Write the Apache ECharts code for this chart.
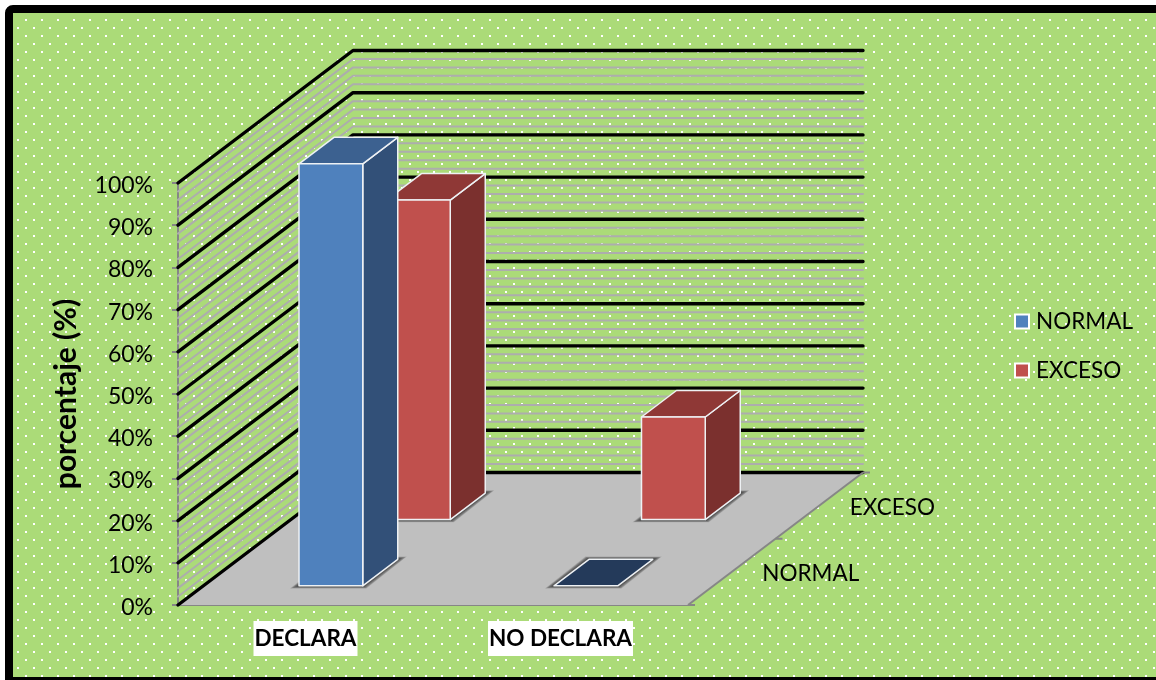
<!DOCTYPE html>
<html>
<head>
<meta charset="utf-8">
<style>html,body{margin:0;padding:0;background:#fff}#c{width:1156px;height:680px}</style>
<script src="https://cdn.jsdelivr.net/npm/echarts@6/dist/echarts.min.js"></script>
</head>
<body>
<div id="c"></div>
<script>
var categories = ['DECLARA', 'NO DECLARA'];
var depthCategories = ['NORMAL', 'EXCESO'];
var normalValues = [100, 0];
var excesoValues = [75.7, 24.3];
var tickValues = [0, 10, 20, 30, 40, 50, 60, 70, 80, 90, 100];

var DX = 175, DY = -132.5, FONT = 'Lato, "Open Sans", sans-serif';
var GREEN = '#ABDB78';

function tile() {
  var t = document.createElement('canvas');
  t.width = 16; t.height = 16;
  var g = t.getContext('2d');
  g.fillStyle = GREEN; g.fillRect(0, 0, 16, 16);
  g.fillStyle = '#fff';
  g.fillRect(9, 3, 2, 2);
  g.fillRect(1, 11, 2, 2);
  return t;
}
function proj(p, d) { return [p[0] + d * DX, p[1] + d * DY]; }

function renderFloor(params, api) {
  var cs = params.coordSys, y0 = api.coord([0, 0])[1];
  var l = cs.x, r = cs.x + cs.width;
  return { type: 'polygon', shape: { points: [[l, y0], [r, y0], proj([r, y0], 1), proj([l, y0], 1)] },
    style: { fill: '#BFBFBF' } };
}
function renderWall(params, api) {
  var cs = params.coordSys, v = api.value(1), y = api.coord([0, v])[1];
  var l = cs.x, r = cs.x + cs.width, major = v % 10 === 0;
  return { type: 'polyline', shape: { points: [[l, y], proj([l, y], 1), proj([r, y], 1)] },
    style: { fill: null, stroke: major ? '#000' : '#ADADAD', lineWidth: major ? 3.4 : 2, lineCap: 'round', lineJoin: 'round' } };
}
function renderDepthAxis(params, api) {
  var cs = params.coordSys, y0 = api.coord([0, 0])[1], r = cs.x + cs.width;
  var axisStyle = { stroke: '#868686', lineWidth: 2, fill: null };
  var kids = [{ type: 'polyline', shape: { points: [[r, y0], proj([r, y0], 1)] }, style: axisStyle }];
  [0, 0.5, 1].forEach(function (d) {
    var p = proj([r, y0], d);
    kids.push({ type: 'polyline', shape: { points: [p, [p[0] + 7, p[1]]] }, style: axisStyle });
  });
  depthCategories.forEach(function (name, i) {
    var p = proj([r, y0], (i + 0.5) / depthCategories.length);
    kids.push({ type: 'text', style: { text: name, x: p[0] + 30.5, y: p[1] + 2, align: 'left', verticalAlign: 'middle',
      fill: '#000', fontSize: 22.5, fontFamily: FONT } });
  });
  return { type: 'group', children: kids };
}
function barRenderer(depthIndex, col) {
  return function (params, api) {
    var c = api.value(0), v = api.value(1);
    var pt = api.coord([c, v]), base = api.coord([c, 0]);
    var w = api.size([1, 0])[0] * 0.25;
    var mid = (depthIndex + 0.5) / depthCategories.length, d0 = mid - 0.105, d1 = mid + 0.095;
    var xa = pt[0] - w / 2, xb = pt[0] + w / 2, yb = base[1], yt = pt[1];
    function st(fill) { return { fill: fill, stroke: '#EEF1F4', lineWidth: 1.5, lineJoin: 'round' }; }
    var foot = [proj([xa, yb], d0), proj([xb, yb], d0), proj([xb, yb], d1), proj([xa, yb], d1)];
    var kids = [];
    for (var e = 9; e >= 1; e -= 1) {
      var sx = e, sy = e * 0.3;
      kids.push({ type: 'polygon', shape: { points: [
        [foot[0][0] - sx, foot[0][1] + sy], [foot[1][0] + sx * 0.4, foot[1][1] + sy],
        [foot[2][0] + sx, foot[2][1] - sy], [foot[3][0] - sx * 0.4, foot[3][1] - sy]] },
        style: { fill: 'rgba(50,50,50,0.17)' } });
    }
    if (v > 0) {
      kids.push({ type: 'polygon', shape: { points: [proj([xb, yb], d0), proj([xb, yb], d1), proj([xb, yt], d1), proj([xb, yt], d0)] }, style: st(col.side) });
      kids.push({ type: 'polygon', shape: { points: [proj([xa, yt], d0), proj([xb, yt], d0), proj([xb, yt], d1), proj([xa, yt], d1)] }, style: st(col.top) });
      kids.push({ type: 'polygon', shape: { points: [proj([xa, yb], d0), proj([xb, yb], d0), proj([xb, yt], d0), proj([xa, yt], d0)] }, style: st(col.front) });
    } else {
      kids.push({ type: 'polygon', shape: { points: foot }, style: st(col.flat) });
    }
    return { type: 'group', children: kids };
  };
}
function pairs(values) { return values.map(function (v, i) { return [i, v]; }); }

var wallLevels = [];
for (var lv = 0; lv <= 100; lv += 2) wallLevels.push([0, lv]);

var chart = echarts.init(document.getElementById('c'));
chart.setOption({
  animation: false,
  backgroundColor: '#fff',
  graphic: [{ type: 'rect', z: -10, silent: true,
    shape: { x: 9, y: 9, width: 1200, height: 672, r: [4, 0, 0, 0] },
    style: { fill: { image: tile(), repeat: 'repeat' }, stroke: '#000', lineWidth: 8 } }],
  grid: { left: 178, top: 183, width: 510, height: 422 },
  legend: {
    data: [{ name: 'NORMAL' }, { name: 'EXCESO' }],
    orient: 'vertical', left: 1009, top: 305, itemWidth: 14, itemHeight: 14, itemGap: 26,
    icon: 'rect', selectedMode: false,
    itemStyle: { borderColor: '#fff', borderWidth: 2 },
    formatter: function (n) { return '{t|' + n + '}'; },
    textStyle: { color: '#000', fontSize: 22.5, fontFamily: FONT,
      rich: { t: { color: '#000', fontSize: 22.5, fontFamily: FONT, padding: [0, 0, 0, 2] } } }
  },
  xAxis: {
    type: 'category', data: categories,
    axisLine: { lineStyle: { color: '#868686', width: 2 } }, axisTick: { show: false },
    axisLabel: { color: '#000', fontWeight: 'bold', fontSize: 22.5, fontFamily: FONT, margin: 16,
      backgroundColor: '#fff', padding: [6, 1, 6, 1], interval: 0 }
  },
  yAxis: {
    type: 'value', min: 0, max: 100, interval: 10,
    name: 'porcentaje (%)', nameLocation: 'middle', nameGap: 97,
    nameTextStyle: { color: '#000', fontWeight: 'bold', fontSize: 30, fontFamily: FONT },
    splitLine: { show: false },
    axisLine: { show: true, lineStyle: { color: '#868686', width: 2 } },
    axisTick: { show: true, length: 6, lineStyle: { color: '#868686', width: 2 } },
    axisLabel: { color: '#000', fontSize: 23, fontFamily: FONT, margin: 25,
      formatter: function (v) { return tickValues.indexOf(v) >= 0 ? '{v|' + v + '%}' : ''; },
      rich: { v: { color: '#000', fontSize: 23, fontFamily: FONT, padding: [5, 0, 0, 0] } } }
  },
  series: [
    { type: 'custom', name: 'Piso', silent: true, z: 1, renderItem: renderFloor, data: [[0, 0]], encode: { x: 0, y: 1 } },
    { type: 'custom', name: 'Paredes', silent: true, z: 1, renderItem: renderWall, data: wallLevels, encode: { x: 0, y: 1 } },
    { type: 'custom', name: 'Profundidad', silent: true, z: 1, renderItem: renderDepthAxis, data: [[0, 0]], encode: { x: 0, y: 1 } },
    { type: 'custom', name: 'EXCESO', silent: true, z: 3, itemStyle: { color: '#C0504D' },
      renderItem: barRenderer(1, { front: '#C0504D', side: '#7B302E', top: '#8F3836', flat: '#5A2322' }),
      data: pairs(excesoValues), encode: { x: 0, y: 1 } },
    { type: 'custom', name: 'NORMAL', silent: true, z: 4, itemStyle: { color: '#4F81BD' },
      renderItem: barRenderer(0, { front: '#4F81BD', side: '#325078', top: '#3C6190', flat: '#243A5A' }),
      data: pairs(normalValues), encode: { x: 0, y: 1 } }
  ]
});
</script>
</body>
</html>
